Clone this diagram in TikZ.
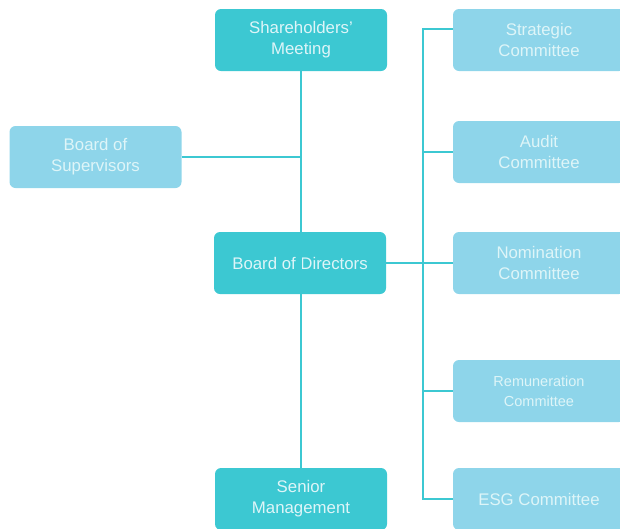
\documentclass[tikz,border=0pt]{standalone}
\usepackage{fontspec}
\setmainfont{Liberation Sans}
\usetikzlibrary{positioning}
\definecolor{tealbox}{RGB}{60,200,210}
\definecolor{skybox}{RGB}{142,213,234}
\definecolor{boxtext}{RGB}{222,245,248}

\begin{document}
\begin{tikzpicture}[x=1pt, y=-1pt,
    main/.style={rectangle, fill=tealbox, text=boxtext, minimum width=172pt, minimum height=62pt, rounded corners=6pt, align=center, inner sep=0pt, font=\fontsize{16.8}{21}\selectfont},
    comm/.style={main, fill=skybox},
    link/.style={draw=tealbox, line width=1.5pt}
]
    % Canvas
    \useasboundingbox (0,0) rectangle (620,528);
    \clip (0,0) rectangle (620,528);

    % Governance chain
    \node [main] (meeting) at (301,40) {Shareholders'\\Meeting};
    \node [comm] (supervisors) at (95.5,157) {Board of\\Supervisors};
    \node [main] (directors) at (300,263) {Board of Directors};
    \node [main] (senior) at (301,499) {Senior\\Management};

    % Committees
    \node [comm] (strategic) at (539,40) {Strategic\\Committee};
    \node [comm] (audit) at (539,152) {Audit\\Committee};
    \node [comm] (nomination) at (539,263) {Nomination\\Committee};
    \node [comm, font=\fontsize{14.5}{20}\selectfont] (remuneration) at (539,391) {Remuneration\\Committee};
    \node [comm] (esg) at (539,499) {ESG Committee};

    % Lines
    \draw [link] (meeting.south) -- (senior.north);
    \draw [link] (supervisors.east) -- (supervisors.east -| meeting.south);
    \draw [link] (directors.east) -- (nomination.west);

    \coordinate (spinetop) at ([xshift=-30pt, yshift=11pt]strategic.west);
    \draw [link] ([yshift=11pt]strategic.west) -- (spinetop) |- (esg.west);
    \foreach \c in {audit, remuneration}
        \draw [link] (\c.west) -- (\c.west -| spinetop);
\end{tikzpicture}
\end{document}
